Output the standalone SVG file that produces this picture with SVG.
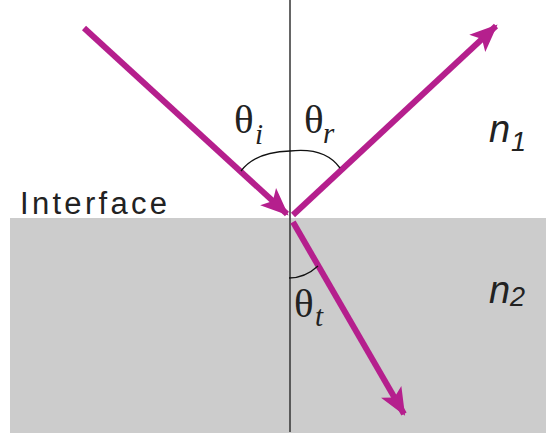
<svg xmlns="http://www.w3.org/2000/svg" width="546" height="438" viewBox="0 0 546 438">
<style>
.ray{stroke:#b51f8d;stroke-width:6;fill:none}
.arc{stroke:#111;stroke-width:1.3;fill:none}
.th{font-family:"Liberation Serif",serif;font-size:41px;fill:#222}
.sub{font-family:"Liberation Serif",serif;font-style:italic;font-size:29px;fill:#222}
.n{font-family:"Liberation Sans",Arial,sans-serif;font-style:italic;font-size:38px;fill:#222}
.ns{font-family:"Liberation Sans",Arial,sans-serif;font-style:italic;font-size:27px;fill:#222}
</style>
<defs>
<marker id="ah" markerUnits="userSpaceOnUse" markerWidth="32" markerHeight="32" viewBox="-26 -13 30 26" refX="0" refY="0" orient="auto">
<path d="M2,0 L-24,-11 L-18,0 L-24,11 Z" fill="#b51f8d"/>
</marker>
</defs>
<rect id="medium2" x="10" y="218" width="536" height="215" fill="#cccccc"/>
<g id="normal"><line x1="290" y1="0" x2="290" y2="432" stroke="#333" stroke-width="1.5"/></g>
<g id="connectors">
<line class="ray" x1="84" y1="28" x2="287" y2="214" marker-end="url(#ah)"/>
<line class="ray" x1="293" y1="215" x2="496" y2="26" marker-end="url(#ah)"/>
<line class="ray" x1="293" y1="222" x2="404" y2="414" marker-end="url(#ah)"/>
</g>
<g id="arcs">
<path class="arc" d="M241,171 Q255,152 290,151"/>
<path class="arc" d="M290,151 Q325,147 340,168"/>
<path class="arc" d="M289,278 Q305,278 318,266"/>
</g>
<g id="labels">
<text class="th" x="234" y="133">θ</text><text class="sub" x="255" y="144">i</text>
<text class="th" x="304" y="133">θ</text><text class="sub" x="323" y="143">r</text>
<text class="th" x="294" y="317">θ</text><text class="sub" x="315" y="326">t</text>
<text class="n" x="489" y="142">n</text><text class="ns" x="511" y="151">1</text>
<text class="n" x="489" y="303">n</text><text class="ns" x="510" y="306">2</text>
<text x="20" y="214" font-family="Liberation Sans,Arial,sans-serif" font-size="31" textLength="147" lengthAdjust="spacing" fill="#222">Interface</text>
</g>
</svg>
